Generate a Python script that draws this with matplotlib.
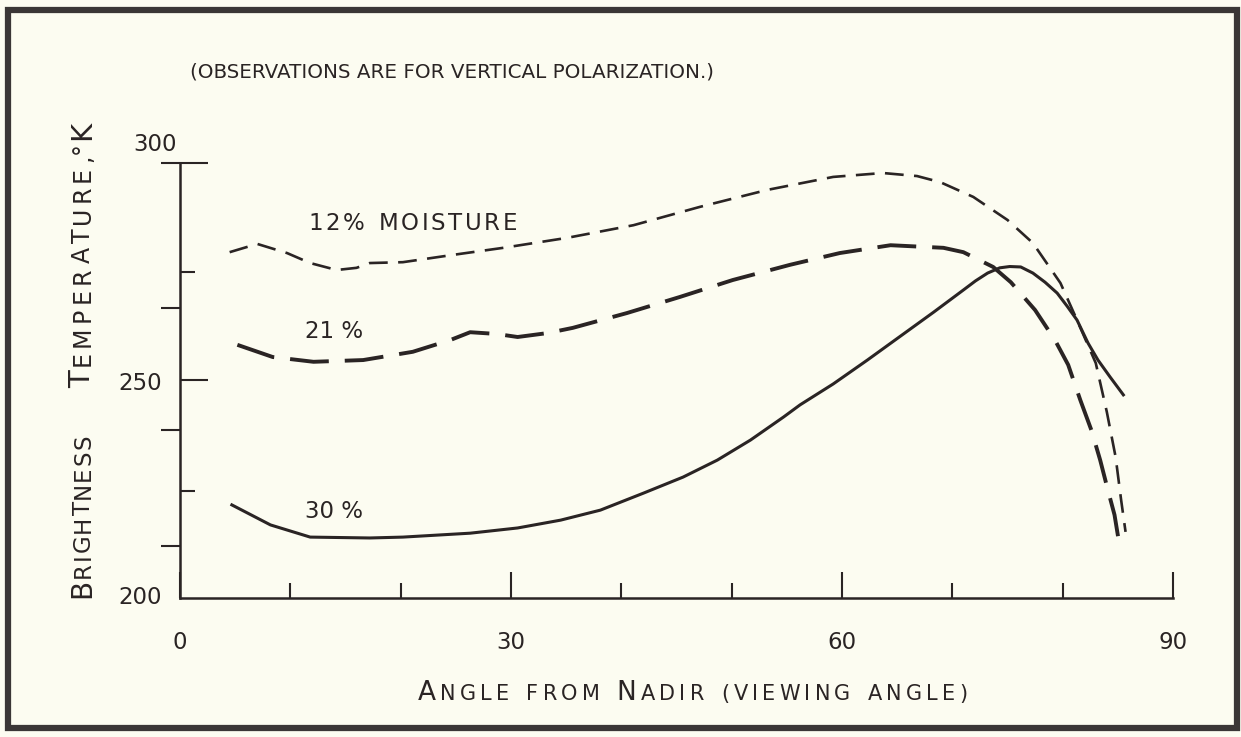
import matplotlib
matplotlib.use('Agg')
import matplotlib.pyplot as plt
from matplotlib.patches import Rectangle
from matplotlib.transforms import IdentityTransform
from matplotlib.font_manager import FontProperties

# curves (angle in degrees, brightness temp in K)
angle_12 = [4.5, 7.0, 9.7, 11.8, 14.2, 16.0, 17.2, 20.2, 24.8, 29.3, 35.1, 41.1,
            47.1, 53.2, 59.2, 63.7, 66.8, 68.9, 71.9, 75.0, 77.3, 79.8, 81.3,
            83.0, 84.0, 84.8, 85.3, 85.7]
temp_12 = [279.5, 281.4, 279.3, 277.0, 275.4, 275.9, 277.0, 277.2, 278.9, 280.5,
           282.8, 285.7, 289.9, 293.8, 296.8, 297.7, 297.0, 295.6, 292.2, 286.9,
           281.6, 272.4, 263.9, 254.0, 242.8, 232.4, 222.5, 215.2]

angle_21 = [5.2, 8.4, 12.1, 16.6, 21.1, 24.5, 26.3, 28.7, 30.6, 33.3, 35.6, 40.5,
            45.3, 50.1, 55.3, 59.8, 64.4, 69.2, 71.0, 73.7, 75.3, 77.5, 79.3,
            80.5, 81.6, 82.6, 83.4, 84.1, 84.7, 85.1]
temp_21 = [258.2, 255.4, 254.3, 254.7, 256.6, 259.3, 261.1, 260.7, 260.0, 260.9,
           262.1, 265.5, 269.2, 273.1, 276.6, 279.3, 281.1, 280.5, 279.5, 276.1,
           272.6, 266.2, 259.3, 253.6, 245.5, 238.6, 231.7, 224.8, 219.1, 212.9]

angle_30 = [4.7, 8.2, 11.8, 17.2, 20.2, 26.3, 30.6, 34.5, 38.1, 42.0, 45.6, 48.7,
            51.7, 54.7, 56.2, 59.2, 62.3, 65.3, 68.3, 71.0, 72.1, 73.2, 74.3,
            75.2, 76.2, 77.3, 78.4, 79.5, 80.4, 81.3, 82.3, 83.2, 84.3, 85.5]
temp_30 = [221.4, 216.8, 214.0, 213.8, 214.0, 214.9, 216.1, 217.9, 220.2, 224.1,
           227.8, 231.7, 236.3, 241.6, 244.4, 249.2, 254.7, 260.2, 265.7, 270.8,
           272.9, 274.7, 275.9, 276.2, 276.1, 274.7, 272.6, 270.1, 267.1, 263.9,
           258.6, 254.7, 250.8, 246.7]

x_major = [0, 30, 60, 90]
x_minor = [10, 20, 40, 50, 70, 80]
y_in_long = [250, 300]
y_in_short = [275, 224.5]
y_out = [266.7, 238.6, 212, 300]

BG = '#fcfcf1'
INK = '#2a2424'
W, H = 1241, 737

plt.rcParams['lines.scale_dashes'] = False
plt.rcParams['font.family'] = 'DejaVu Sans'

fig = plt.figure(figsize=(W / 100, H / 100), dpi=100, facecolor=BG)
ax = fig.add_axes([180 / W, 139 / H, 993 / W, 435 / H])
ax.set_facecolor('none')
ax.set_xlim(0, 90)
ax.set_ylim(200, 300)

ax.plot(angle_12, temp_12, color=INK, lw=1.9, ls=(0, (13.5, 7.5)), clip_on=False)
ax.plot(angle_21, temp_21, color=INK, lw=2.8, ls=(0, (28, 11.5)), clip_on=False)
ax.plot(angle_30, temp_30, color=INK, lw=2.2, clip_on=False)

for side in ['top', 'right']:
    ax.spines[side].set_visible(False)
for side in ['left', 'bottom']:
    ax.spines[side].set_linewidth(1.8)
    ax.spines[side].set_color(INK)

ax.set_xticks(x_major)
ax.set_xticks(x_minor, minor=True)
ax.set_xticklabels([str(v) for v in x_major], fontsize=16.5, color=INK)
ax.tick_params(axis='x', which='major', direction='in', length=19, width=1.5,
               color=INK, pad=24)
ax.tick_params(axis='x', which='minor', direction='in', length=11, width=1.5,
               color=INK)

ax.set_yticks(y_in_long)
ax.set_yticks(y_in_short, minor=True)
ax.tick_params(axis='y', which='major', direction='in', length=20, width=1.5,
               color=INK, labelleft=False)
ax.tick_params(axis='y', which='minor', direction='in', length=10.5, width=1.5,
               color=INK)
sec = ax.secondary_yaxis('left')
sec.spines['left'].set_visible(False)
sec.set_yticks(y_out)
sec.tick_params(axis='y', direction='out', length=14, width=1.5, color=INK,
                labelleft=False)

ytr = ax.get_yaxis_transform()
ax.text(-0.040, 200, '200', transform=ytr, ha='center', va='center',
        fontsize=16.5, color=INK)
ax.text(-0.040, 249.4, '250', transform=ytr, ha='center', va='center',
        fontsize=16.5, color=INK)
ax.text(-0.025, 304.3, '300', transform=ytr, ha='center', va='center',
        fontsize=16.5, color=INK)

fig.text(190, H - 78, '(OBSERVATIONS ARE FOR VERTICAL POLARIZATION.)',
         transform=IdentityTransform(), ha='left', va='baseline',
         fontsize=14.3, color=INK)

renderer = fig.canvas.get_renderer()


def lettered(runs, x, y, vertical=False, track=3.0, space=13.0):
    # lettering-guide style text: one glyph at a time, even gaps
    pos = y if vertical else x
    for s, size in runs:
        prop = FontProperties(family='DejaVu Sans', size=size)
        for ch in s:
            if ch == ' ':
                pos += space
                continue
            w, h, d = renderer.get_text_width_height_descent(ch, prop, ismath=False)
            if vertical:
                fig.text(x, pos, ch, fontproperties=prop, rotation=90,
                         rotation_mode='anchor', ha='left', va='baseline',
                         transform=IdentityTransform(), color=INK)
            else:
                fig.text(pos, y, ch, fontproperties=prop, ha='left',
                         va='baseline', transform=IdentityTransform(), color=INK)
            pos += w + track


# curve labels
px, py = ax.transData.transform((11.6, 284.6))
lettered([('12% MOISTURE', 16.5)], px, py, track=2.6, space=12)
ax.text(11.3, 259.8, '21 %', ha='left', va='baseline', fontsize=16.5, color=INK)
ax.text(11.3, 218.4, '30 %', ha='left', va='baseline', fontsize=16.5, color=INK)

# axis titles
lettered([('A', 19), ('NGLE FROM ', 15), ('N', 19), ('ADIR (VIEWING ANGLE)', 15)],
         418, H - 700, track=4.2, space=13)
lettered([('B', 20), ('RIGHTNESS', 16.5)], 90, H - 598, vertical=True, track=1.3)
lettered([('T', 21), ('EMPERATURE,', 17)], 90, H - 388, vertical=True, track=4.3)
lettered([('°', 17), ('K', 21)], 90, H - 154, vertical=True, track=2)

fig.add_artist(Rectangle((7.5 / W, (H - 728) / H), 1229.5 / W, 718 / H,
                         transform=fig.transFigure, fill=False, lw=4.5,
                         ec='#3a3636'))

fig.savefig('out.png', dpi=100, facecolor=BG)
